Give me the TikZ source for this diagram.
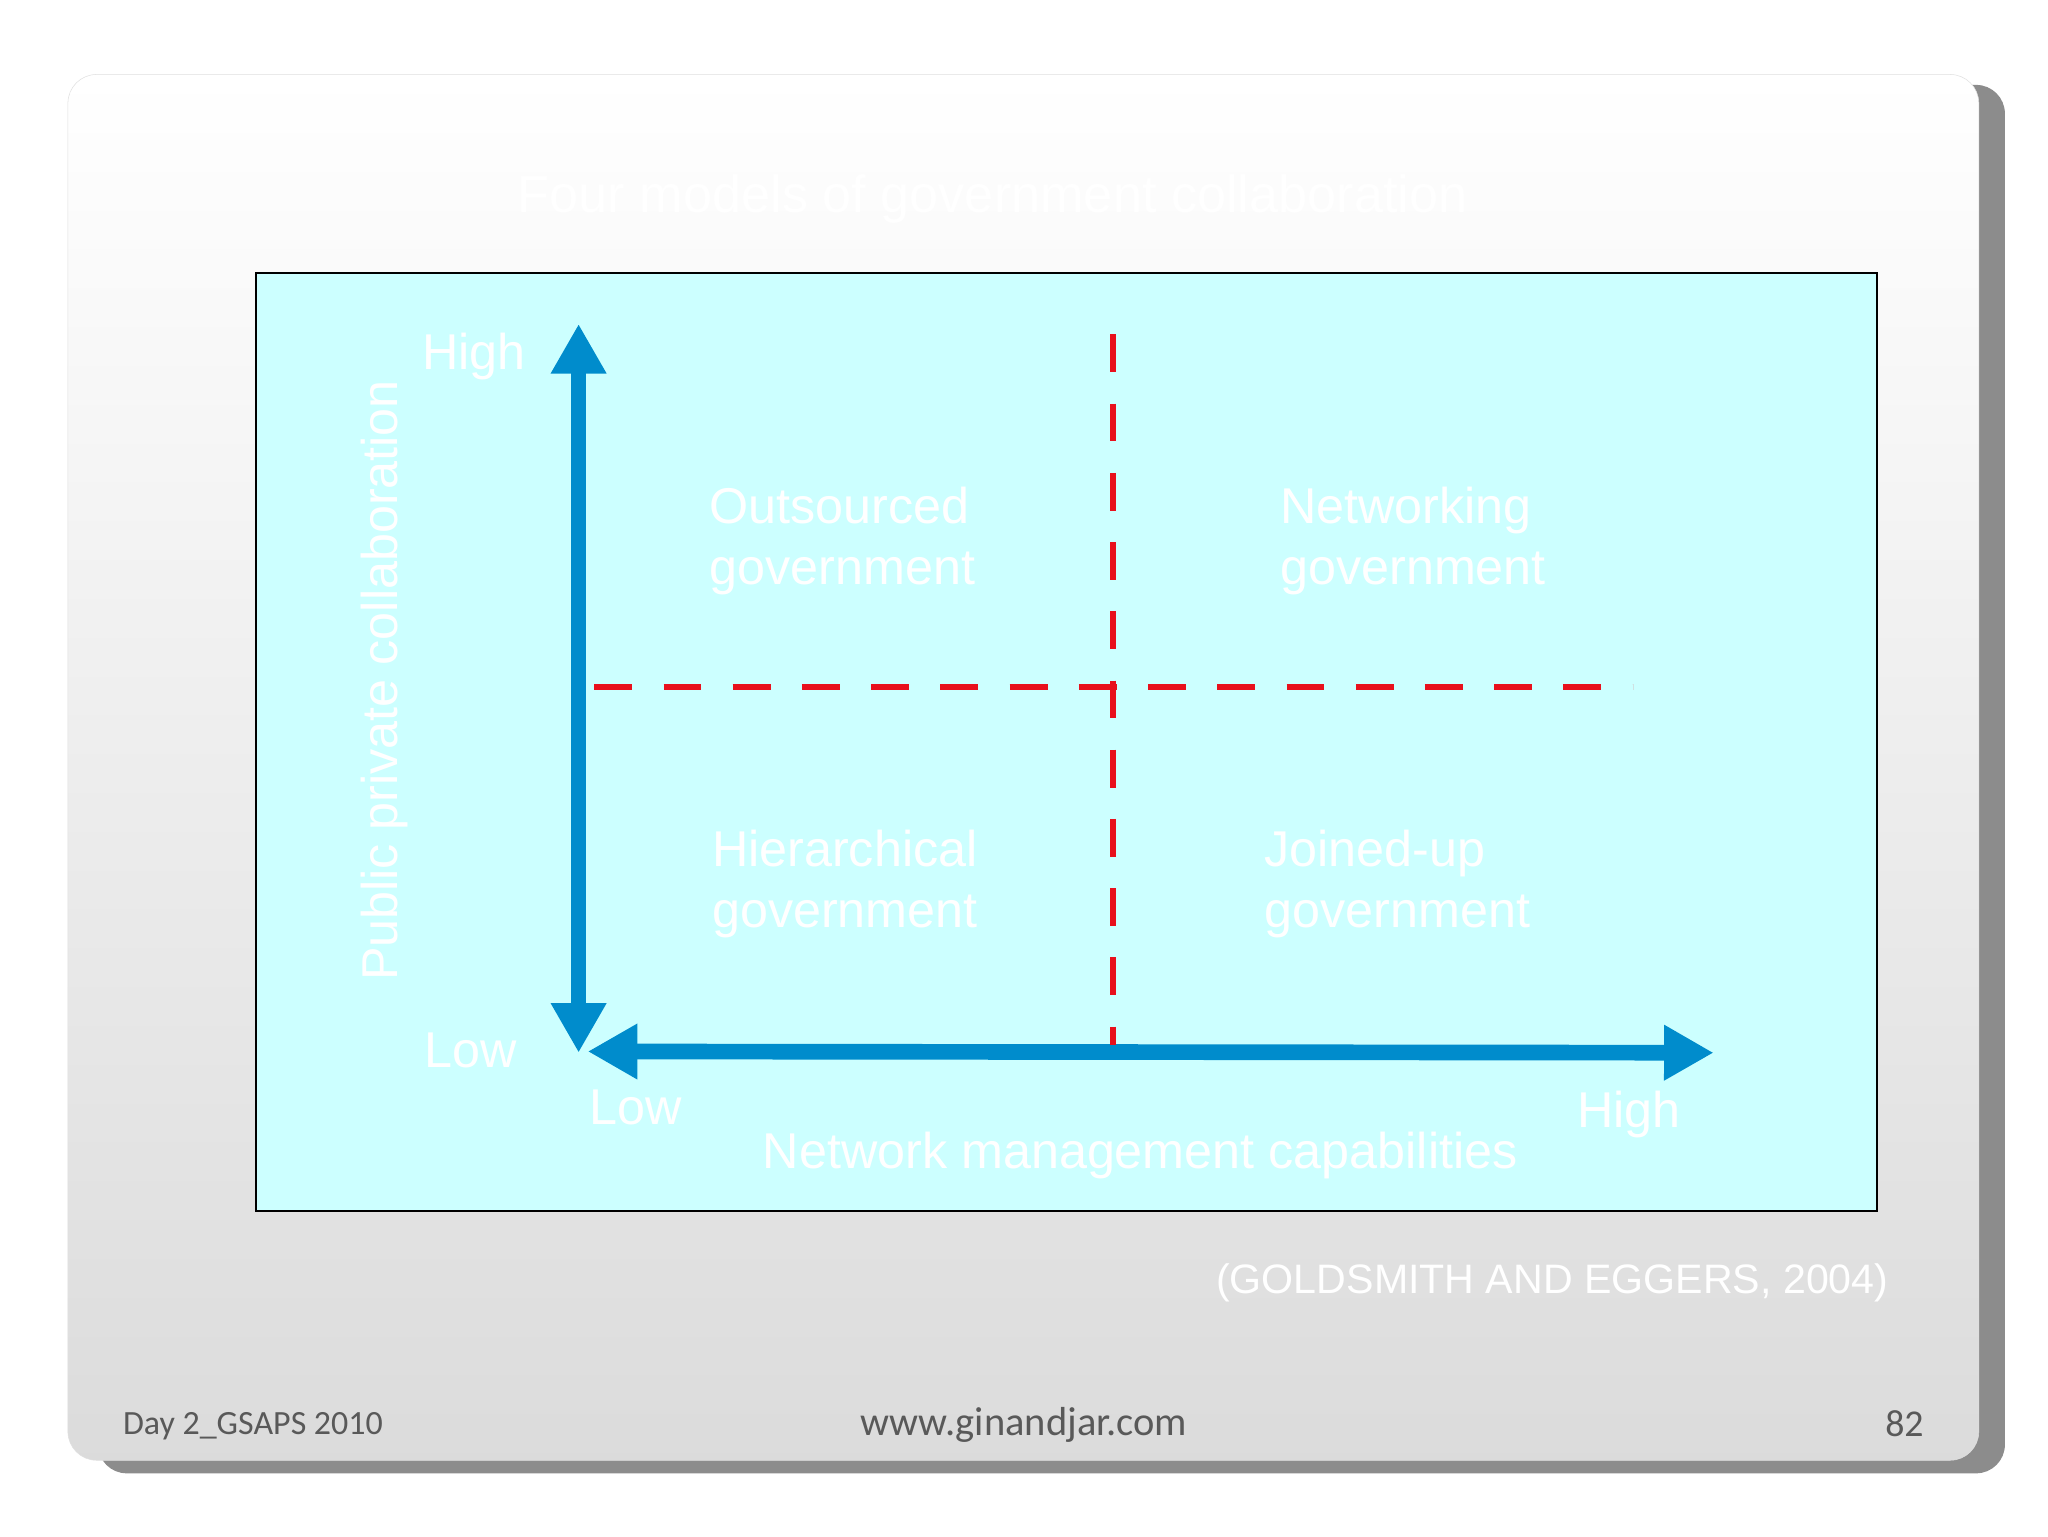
\documentclass[tikz,border=0pt]{standalone}
\usepackage{fontspec}
\setmainfont{Liberation Sans}
\newfontfamily\carlitofont{Carlito}
\usetikzlibrary{arrows.meta}
\definecolor{axis}{HTML}{008CCC}
\definecolor{cy}{HTML}{CCFFFF}
\definecolor{dred}{HTML}{E8101C}
\definecolor{foot}{HTML}{595959}
\tikzset{
  wt/.style={text=white,font=\fontsize{38.5}{47}\selectfont,align=left,inner sep=0pt},
  ax/.style={axis,line width=12pt,{Triangle[width=40pt,length=38pt]}-{Triangle[width=40pt,length=38pt]}},
  dl/.style={dred,line width=4.2pt,dash pattern=on 29pt off 24pt},
  ft/.style={text=foot,inner sep=0pt}
}
\begin{document}
\begin{tikzpicture}[x=1pt,y=-1pt]
\useasboundingbox (0,0) rectangle (1568,1176);
\fill[white] (0,0) rectangle (1568,1176);
\fill[black!45,rounded corners=22pt] (75,65) rectangle (1535,1128);
\shade[top color=white,bottom color=black!14,rounded corners=22pt,draw=black!12] (52,57) rectangle (1515,1118);
\node[text=white,font=\fontsize{40}{48}\selectfont] (title) at (760,152) {Four models of government collaboration};
\node[draw=black,fill=cy,line width=1.2pt,minimum width=1241pt,minimum height=718pt,inner sep=0pt] (box) at (816.5,568) {};
\coordinate (vt) at (443,248); \coordinate (vb) at (443,806);
\coordinate (hl) at (450,805); \coordinate (hr) at (1312,806);
\draw[ax] (vt) -- (vb);
\draw[ax] (hl) -- (hr);
\coordinate (dt) at (852,256); \coordinate (db) at (852,800);
\coordinate (dll) at (455,526); \coordinate (dlr) at (1250,526);
\draw[dl] (dt) -- (db);
\draw[dl] (dll) -- (dlr);
\node[wt,anchor=center] (hy) at (363,273) {High};
\node[wt,anchor=center] (ly) at (360,804) {Low};
\node[wt,anchor=center] (lx) at (487,848) {Low};
\node[wt,anchor=center] (hx) at (1247,853) {High};
\node[wt,anchor=center] (xl) at (873,885) {Network management capabilities};
\node[wt,anchor=center,rotate=90] (yl) at (294,521) {Public private collaboration};
\node[wt,anchor=west] (q1) at (543,414) {Outsourced\\government};
\node[wt,anchor=west] (q2) at (980,414) {Networking\\government};
\node[wt,anchor=west] (q3) at (545,677) {Hierarchical\\government};
\node[wt,anchor=west] (q4) at (968,677) {Joined-up\\government};
\node[text=white,font=\fontsize{31.5}{37}\selectfont,anchor=east,inner sep=0pt] (src) at (1446,982) {(GOLDSMITH AND EGGERS, 2004)};
\node[ft,font=\carlitofont\fontsize{26}{30}\selectfont,anchor=west] (f1) at (94,1092) {Day 2\_GSAPS 2010};
\node[ft,font=\carlitofont\fontsize{31}{36}\selectfont] (f2) at (784,1091) {www.ginandjar.com};
\node[ft,font=\carlitofont\fontsize{29}{34}\selectfont,anchor=east] (f3) at (1473,1090) {82};
\end{tikzpicture}
\end{document}
